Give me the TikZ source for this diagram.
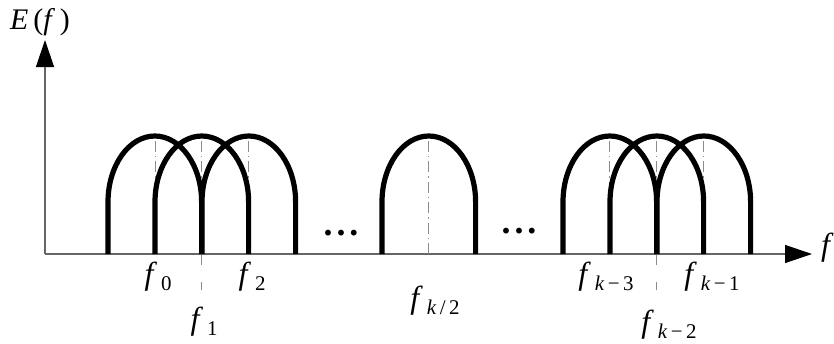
\documentclass[tikz,border=0pt]{standalone}
\usepackage{fontspec}
\setmainfont{Liberation Serif}
\usetikzlibrary{arrows.meta}

% subscripted frequency label
\newcommand{\fsub}[1]{\textit{f}\hspace{4bp}\raisebox{-6bp}{\fontsize{21}{22}\selectfont #1}}

\begin{document}
\begin{tikzpicture}[x=1bp, y=1bp,
            arch/.style={
                line width=5.2bp,
                line join=round
            },
            axis/.style={
                line width=1.3bp,
                draw=black!60,
                -{Triangle[length=27bp, width=18bp, color=black]}
            },
            centre/.style={
                line width=0.9bp,
                draw=black!45,
                dash pattern=on 11bp off 4bp on 1.5bp off 4bp
            },
            flabel/.style={
                font=\fontsize{32}{36}\selectfont,
                inner sep=0pt
            },
            dotrow/.style={
                font=\fontsize{36}{40}\selectfont\bfseries,
                inner sep=0pt
            }
        ]
        \useasboundingbox (0,0) rectangle (834,343);

        % Axes
        \coordinate (origin) at (45,89);
        \coordinate (xend) at (812,89);
        \coordinate (yend) at (45,303);
        \draw[axis] (origin) -- (xend);
        \draw[axis] (origin) -- (yend);

        \node[flabel, font=\fontsize{30}{34}\selectfont] (ylabel) at (40,321)
            {\textit{E}\,(\textit{f}\,)};
        \node[flabel, anchor=west] (xlabel) at (821,95) {\textit{f}};

        % Centre lines of the sub-bands
        \foreach \c in {155,201.8,248.6,428.8,609.8,656.6,703.4}
            \draw[centre] (\c,89) -- (\c,207);
        \draw[centre, dash pattern=on 11bp off 17bp] (201.8,89) -- (201.8,53);
        \draw[centre, dash pattern=on 11bp off 17bp] (656.6,89) -- (656.6,53);

        % Sub-band spectra
        \foreach \l in {108,155,202,382,563,610,657}
            \draw[arch] (\l,89) -- (\l,141)
                arc[start angle=180, end angle=0, x radius=46.8, y radius=66]
                -- (\l+93.6,89);

        % Dots
        \node[dotrow] (dotsa) at (341,110) {.\hspace{4bp}.\hspace{4bp}.};
        \node[dotrow] (dotsb) at (519,112) {.\hspace{4bp}.\hspace{4bp}.};

        % Labels
        \node[flabel] (f0) at (158,66) {\fsub{0}};
        \node[flabel] (f1) at (204,21) {\fsub{1}};
        \node[flabel] (f2) at (252,66) {\fsub{2}};
        \node[flabel] (fmid) at (435,42) {\fsub{\textit{k}\,/\,2}};
        \node[flabel] (fk3) at (606,66) {\fsub{\textit{k}\,−\,3}};
        \node[flabel] (fk2) at (669,18) {\fsub{\textit{k}\,−\,2}};
        \node[flabel] (fk1) at (712,66) {\fsub{\textit{k}\,−\,1}};
        \end{tikzpicture}
\end{document}
